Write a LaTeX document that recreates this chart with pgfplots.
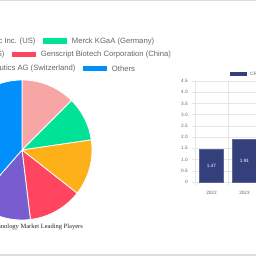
\documentclass[border=0pt]{standalone}
\usepackage{fontspec}
\setmainfont{Liberation Sans}
\newfontfamily\titleserif{Liberation Serif}
\usepackage{pgfplots}
\pgfplotsset{compat=1.18}
\definecolor{cPink}{RGB}{247,165,165}
\definecolor{cGreen}{RGB}{0,227,150}
\definecolor{cOrange}{RGB}{254,176,25}
\definecolor{cRed}{RGB}{255,69,96}
\definecolor{cPurple}{RGB}{119,93,208}
\definecolor{cBlue}{RGB}{0,143,251}
\definecolor{cNavy}{RGB}{52,64,124}
\definecolor{cText}{RGB}{102,102,102}
\definecolor{cGrid}{RGB}{230,230,230}
\begin{document}
\begin{tikzpicture}
\useasboundingbox (0bp,0bp) rectangle (256bp,256bp);
\clip (0bp,0bp) rectangle (256bp,256bp);
\fill[white] (0bp,0bp) rectangle (256bp,256bp);
% frame lines
\fill[black!13] (0bp,255bp) rectangle (256bp,256bp);
\fill[black!13] (0bp,0bp) rectangle (256bp,2bp);
% ---------------- pie ----------------
% slice shares (percent): 12.5, 10.2, 12.9, 12.5, 13.3, 38.6
\begin{axis}[at={(-48bp,36bp)}, anchor=south west, scale only axis,
  width=140bp, height=140bp, xmin=-1, xmax=1, ymin=-1, ymax=1,
  hide axis, clip=false]
\addplot[fill=cPink, draw=white, line width=0.8bp, domain=0:45, samples=40] ({sin(x)},{cos(x)}) -- (axis cs:0,0) -- cycle;
\addplot[fill=cGreen, draw=white, line width=0.8bp, domain=45:81.7, samples=40] ({sin(x)},{cos(x)}) -- (axis cs:0,0) -- cycle;
\addplot[fill=cOrange, draw=white, line width=0.8bp, domain=81.7:128.1, samples=40] ({sin(x)},{cos(x)}) -- (axis cs:0,0) -- cycle;
\addplot[fill=cRed, draw=white, line width=0.8bp, domain=128.1:173.1, samples=40] ({sin(x)},{cos(x)}) -- (axis cs:0,0) -- cycle;
\addplot[fill=cPurple, draw=white, line width=0.8bp, domain=173.1:221.1, samples=40] ({sin(x)},{cos(x)}) -- (axis cs:0,0) -- cycle;
\addplot[fill=cBlue, draw=white, line width=0.8bp, domain=221.1:360, samples=80] ({sin(x)},{cos(x)}) -- (axis cs:0,0) -- cycle;
\end{axis}
% pie legend
\begin{scope}[every node/.style={inner sep=0pt, text=cText, font=\fontsize{7.7}{8}\selectfont}]
\node[anchor=east] at (35.7bp,214.5bp) {Thermo Fisher Scientific Inc. (US)};
\fill[cGreen] (42.7bp,212bp) rectangle (66.7bp,217.5bp);
\node[anchor=west] at (71.7bp,214.5bp) {Merck KGaA (Germany)};
\node[anchor=east] at (4.7bp,201bp) {Integrated DNA Technologies (US)};
\fill[cRed] (11.7bp,198.5bp) rectangle (36bp,204bp);
\node[anchor=west] at (40.7bp,201bp) {Genscript Biotech Corporation (China)};
\node[anchor=east] at (75.7bp,187bp) {CRISPR Therapeutics AG (Switzerland)};
\fill[cBlue] (82.7bp,184.5bp) rectangle (106.7bp,190bp);
\node[anchor=west] at (111.7bp,187bp) {Others};
\end{scope}
% title
\node[anchor=east, inner sep=0pt, text=black!85, font=\titleserif\fontsize{6.5}{7}\selectfont] at (83bp,29bp) {CRISPR Technology Market Leading Players};
% ---------------- bars ----------------
\begin{axis}[at={(195bp,74bp)}, anchor=south west, scale only axis,
  width=132bp, height=101bp, xmin=-0.5, xmax=3.5, ymin=0, ymax=4.5,
  axis line style={draw=none},
  ytick={0,0.5,1,1.5,2,2.5,3,3.5,4,4.5},
  yticklabels={0,0.5,1.0,1.5,2.0,2.5,3.0,3.5,4.0,4.5},
  xtick={0,1,2,3}, xticklabels={2022,2023,2024,2025},
  minor xtick={-0.5,0.5,1.5,2.5,3.5},
  ymajorgrids, xminorgrids,
  grid style={cGrid, line width=0.5bp},
  minor grid style={cGrid, line width=0.5bp},
  tick align=outside, xtick pos=bottom, ytick pos=left,
  major tick length=3.3bp, minor tick length=4bp,
  x tick style={draw=none}, minor x tick style={draw=cGrid, line width=0.5bp},
  y tick style={draw=cGrid, line width=0.5bp},
  tick label style={font=\fontsize{4.7}{5}\selectfont, text=cText},
  /pgf/number format/assume math mode=true,
  yticklabel style={xshift=-0.5bp},
  xticklabel style={yshift=-2.5bp},
  clip=false]
\addplot[ybar, bar width=24bp, fill=cNavy, draw=cNavy!80!white, line width=0.4bp] coordinates {(0,1.47) (1,1.91)};
\addplot[draw=none, mark=none, nodes near coords, point meta=explicit symbolic,
  every node near coord/.append style={anchor=center, inner sep=0pt, text=white, font=\fontsize{4.7}{5}\selectfont}]
  coordinates {(0,0.735) [1.47] (1,0.955) [1.91]};
\end{axis}
% bar legend
\fill[cNavy] (230bp,180.3bp) rectangle (247bp,183.7bp);
\node[anchor=west, inner sep=0pt, text=cText, font=\fontsize{4.7}{5}\selectfont] at (250bp,182bp) {CRISPR Technology Market Size};
\end{tikzpicture}
\end{document}
